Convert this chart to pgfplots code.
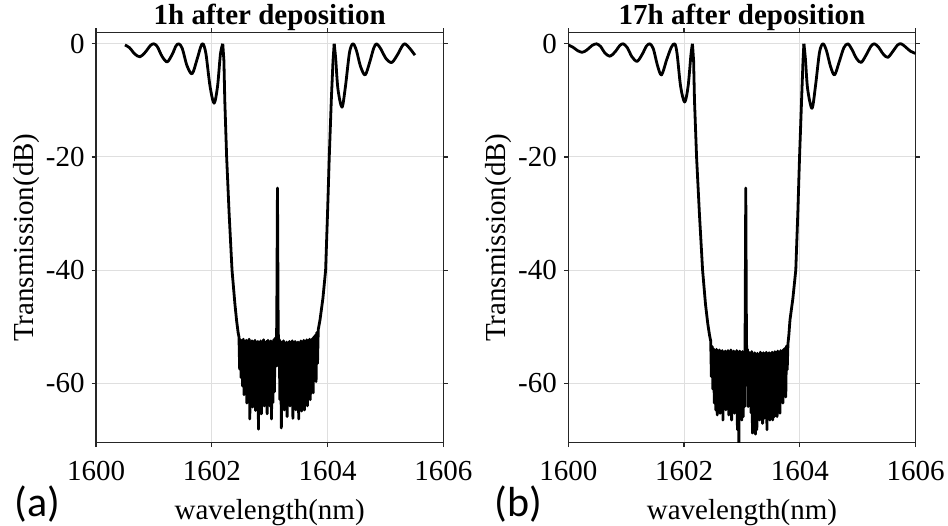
\documentclass[border=0pt]{standalone}
\usepackage{fontspec}
\setmainfont{Liberation Serif}
\newfontfamily\calibri{Carlito}
\usepackage{pgfplots}
\pgfplotsset{compat=1.18}
\pgfplotsset{panel/.style={
  width=173.65pt, height=205.1pt, scale only axis,
  anchor=south west, clip mode=individual,
  xmin=1600, xmax=1606, ymin=-70.5, ymax=2,
  xtick={1600,1602,1604,1606}, xticklabels={1600,1602,1604,1606},
  ytick={-60,-40,-20,0}, yticklabels={-60,-40,-20,0},
  grid=major, major grid style={gray!25, line width=0.5pt},
  axis line style={black!85, line width=0.6pt},
  tick style={black!85, line width=0.6pt},
  tick align=outside, major tick length=2.2pt,
  ticklabel style={font=\fontsize{14.5}{17}\selectfont},
  xticklabel style={yshift=-3.5pt},
  label style={font=\fontsize{14.5}{17}\selectfont},
  every axis title shift=0pt,
  title style={font=\bfseries\fontsize{14.5}{17}\selectfont, at={(axis description cs:0.5,1.0183)}, anchor=base},
  xlabel style={at={(axis description cs:0.5,-0.1804)}, anchor=base, yshift=-1.5pt},
  ylabel style={at={(axis description cs:-0.1805,0.5)}, anchor=base},
  xlabel={wavelength(nm)}, ylabel={Transmission(dB)},
  cycle list={{black, line width=1.4pt, line join=round}},
  every axis plot/.append style={black, line width=1.4pt, line join=round, no markers},
}}
\begin{document}
\begin{tikzpicture}
\useasboundingbox (0,0) rectangle (474pt,262.5pt);
% ---------------- panel (a)
\begin{axis}[panel, at={(48pt,41.15pt)}, title={1h after deposition}]
\addplot[black, smooth, tension=0.5] coordinates {
(1600.50,-0.2) (1600.58,-0.7) (1600.67,-1.8) (1600.76,-2.3) (1600.85,-1.5) (1600.94,-0.3) (1601.00,0.0) (1601.06,-0.5) (1601.14,-2.2) (1601.23,-3.2) (1601.32,-1.8) (1601.38,-0.4) (1601.43,0.0) (1601.49,-0.8) (1601.57,-3.8) (1601.66,-5.3) (1601.75,-2.6) (1601.81,-0.5) (1601.85,0.0) (1601.90,-1.8) (1601.97,-7.5) (1602.04,-10.5) (1602.10,-7.5) (1602.15,-1.8) (1602.19,0.0)};
\addplot[black] coordinates {
(1602.19,0.0) (1602.21,-3) (1602.225,-10) (1602.257,-20) (1602.30,-30) (1602.35,-40) (1602.40,-46) (1602.43,-49) (1602.455,-51)
(1602.470,-51.8) (1602.482,-57.5) (1602.495,-52.3) (1602.507,-59.0) (1602.520,-52.6) (1602.532,-60.5) (1602.545,-52.2) (1602.557,-62.0) (1602.570,-52.9) (1602.582,-61.0) (1602.595,-52.4) (1602.607,-63.5) (1602.620,-52.8) (1602.632,-62.5) (1602.645,-52.2) (1602.657,-66.3) (1602.670,-52.9) (1602.682,-63.0) (1602.695,-52.5) (1602.707,-64.2) (1602.720,-53.0) (1602.732,-62.8) (1602.745,-52.4) (1602.757,-64.8) (1602.770,-52.9) (1602.782,-63.5) (1602.795,-52.6) (1602.807,-68.1) (1602.820,-53.1) (1602.832,-63.2) (1602.845,-52.5) (1602.857,-65.4) (1602.870,-52.8) (1602.882,-62.6) (1602.895,-52.3) (1602.907,-64.0) (1602.920,-52.9) (1602.932,-63.6) (1602.945,-52.6) (1602.957,-65.4) (1602.970,-52.4) (1602.982,-62.8) (1602.995,-52.9) (1603.007,-64.0) (1603.020,-52.5) (1603.032,-66.3) (1603.045,-52.8) (1603.057,-63.4) (1603.070,-52.3) (1603.082,-61.5) (1603.095,-52.0) (1603.110,-57.0)
(1603.123,-49.0) (1603.135,-25.5) (1603.147,-49.0) (1603.158,-57.0)
(1603.165,-52.2) (1603.177,-62.9) (1603.190,-52.6) (1603.202,-67.9) (1603.215,-52.9) (1603.227,-63.5) (1603.240,-52.5) (1603.252,-64.7) (1603.265,-53.0) (1603.277,-62.5) (1603.290,-52.7) (1603.302,-65.9) (1603.315,-53.1) (1603.327,-63.0) (1603.340,-52.6) (1603.352,-64.0) (1603.365,-53.0) (1603.377,-62.4) (1603.390,-52.5) (1603.402,-66.2) (1603.415,-52.9) (1603.427,-63.2) (1603.440,-52.6) (1603.452,-64.7) (1603.465,-53.1) (1603.477,-62.6) (1603.490,-52.7) (1603.502,-66.3) (1603.515,-52.9) (1603.527,-63.0) (1603.540,-52.5) (1603.552,-64.9) (1603.565,-52.8) (1603.577,-62.3) (1603.590,-52.4) (1603.602,-64.7) (1603.615,-52.7) (1603.627,-62.0) (1603.640,-52.3) (1603.652,-64.0) (1603.665,-52.6) (1603.677,-61.5) (1603.690,-52.2) (1603.702,-62.9) (1603.715,-52.5) (1603.727,-60.5) (1603.740,-52.1) (1603.752,-61.7) (1603.765,-51.8) (1603.777,-59.0) (1603.790,-51.5) (1603.802,-59.7) (1603.815,-51.0) (1603.827,-56.5) (1603.840,-50.5)
(1603.87,-48.8) (1603.92,-45) (1603.967,-40) (1604.00,-30) (1604.03,-20) (1604.065,-10) (1604.095,-3) (1604.115,0.0)};
\addplot[black, smooth, tension=0.5] coordinates {
(1604.115,0.0) (1604.14,-2.5) (1604.18,-8) (1604.25,-11.2) (1604.31,-7.5) (1604.38,-1.5) (1604.44,0.0) (1604.50,-1.2) (1604.57,-4.0) (1604.65,-5.5) (1604.73,-3.2) (1604.80,-0.7) (1604.85,0.0) (1604.92,-0.9) (1605.01,-2.6) (1605.11,-3.3) (1605.21,-1.9) (1605.29,-0.4) (1605.34,0.0) (1605.42,-0.8) (1605.51,-2.0)};
\node[anchor=base west, font=\calibri\fontsize{21}{25}\selectfont] at (axis description cs:-0.255,-0.1804) {(a)};
\end{axis}
% ---------------- panel (b)
\begin{axis}[panel, at={(284.15pt,41.15pt)}, title={17h after deposition}]
\addplot[black, smooth, tension=0.5] coordinates {
(1600.00,-0.2) (1600.08,-0.6) (1600.16,-1.2) (1600.24,-1.5) (1600.32,-1.1) (1600.41,-0.3) (1600.49,0.0) (1600.56,-0.5) (1600.63,-1.6) (1600.72,-2.2) (1600.81,-1.4) (1600.89,-0.3) (1600.95,0.0) (1601.02,-0.7) (1601.10,-2.3) (1601.19,-3.1) (1601.28,-1.8) (1601.35,-0.4) (1601.41,0.0) (1601.47,-0.9) (1601.54,-3.8) (1601.61,-5.5) (1601.70,-2.8) (1601.78,-0.6) (1601.84,0.0) (1601.88,-1.8) (1601.94,-7.5) (1602.01,-10.3) (1602.07,-7.5) (1602.12,-1.8) (1602.145,0.0)};
\addplot[black] coordinates {
(1602.145,0.0) (1602.165,-3) (1602.18,-10) (1602.216,-20) (1602.265,-30) (1602.32,-40) (1602.37,-46) (1602.41,-49.5) (1602.44,-51.5)
(1602.460,-52.5) (1602.472,-58.8) (1602.485,-53.5) (1602.497,-61.0) (1602.510,-53.9) (1602.522,-63.5) (1602.535,-54.2) (1602.547,-64.7) (1602.560,-54.0) (1602.572,-65.6) (1602.585,-54.5) (1602.597,-64.0) (1602.610,-54.1) (1602.622,-65.3) (1602.635,-54.6) (1602.647,-64.2) (1602.660,-54.2) (1602.672,-66.5) (1602.685,-54.7) (1602.697,-64.5) (1602.710,-54.3) (1602.722,-64.7) (1602.735,-54.8) (1602.747,-63.8) (1602.760,-54.2) (1602.772,-65.6) (1602.785,-54.6) (1602.797,-64.3) (1602.810,-54.1) (1602.822,-66.5) (1602.835,-54.7) (1602.847,-64.8) (1602.860,-54.3) (1602.872,-65.3) (1602.885,-54.8) (1602.897,-64.5) (1602.910,-54.2) (1602.922,-68.2) (1602.935,-54.6) (1602.947,-70.5) (1602.960,-54.3) (1602.972,-64.9) (1602.985,-54.8) (1602.997,-66.5) (1603.010,-54.4) (1603.022,-65.9) (1603.035,-54.6) (1603.047,-64.1)
(1603.055,-50) (1603.066,-25.5) (1603.077,-50) (1603.087,-60)
(1603.095,-54.0) (1603.107,-64.1) (1603.120,-54.5) (1603.132,-63.6) (1603.145,-54.8) (1603.157,-65.2) (1603.170,-54.4) (1603.182,-68.8) (1603.195,-54.9) (1603.207,-65.5) (1603.220,-54.6) (1603.232,-69.0) (1603.245,-55.0) (1603.257,-68.2) (1603.270,-54.7) (1603.282,-65.0) (1603.295,-54.9) (1603.307,-66.5) (1603.320,-54.5) (1603.332,-65.4) (1603.345,-55.0) (1603.357,-67.1) (1603.370,-54.6) (1603.382,-66.2) (1603.395,-54.9) (1603.407,-64.8) (1603.420,-54.5) (1603.432,-68.2) (1603.445,-55.0) (1603.457,-65.3) (1603.470,-54.6) (1603.482,-66.5) (1603.495,-54.9) (1603.507,-64.6) (1603.520,-54.5) (1603.532,-66.5) (1603.545,-54.8) (1603.557,-65.9) (1603.570,-54.4) (1603.582,-64.2) (1603.595,-54.7) (1603.607,-65.9) (1603.620,-54.3) (1603.632,-64.0) (1603.645,-54.6) (1603.657,-65.3) (1603.670,-54.2) (1603.682,-63.0) (1603.695,-54.4) (1603.707,-63.5) (1603.720,-54.0) (1603.732,-61.5) (1603.745,-53.8) (1603.757,-62.4) (1603.770,-53.4) (1603.782,-57.6) (1603.795,-53.0)
(1603.81,-51.5) (1603.83,-48.8) (1603.88,-45) (1603.93,-40) (1603.965,-30) (1603.995,-20) (1604.03,-10) (1604.055,-3) (1604.07,0.0)};
\addplot[black, smooth, tension=0.5] coordinates {
(1604.07,0.0) (1604.095,-2.5) (1604.135,-8) (1604.21,-11.4) (1604.27,-7.5) (1604.34,-1.5) (1604.40,0.0) (1604.46,-1.2) (1604.53,-4.0) (1604.60,-5.5) (1604.68,-3.2) (1604.76,-0.7) (1604.83,0.0) (1604.90,-1.0) (1604.98,-2.6) (1605.06,-3.3) (1605.15,-1.9) (1605.23,-0.4) (1605.29,0.0) (1605.36,-0.6) (1605.44,-1.8) (1605.52,-2.4) (1605.61,-1.3) (1605.69,-0.2) (1605.75,0.0) (1605.82,-0.5) (1605.91,-1.3) (1606.00,-1.7)};
\node[anchor=base west, font=\calibri\fontsize{21}{25}\selectfont] at (axis description cs:-0.233,-0.1804) {(b)};
\end{axis}
\end{tikzpicture}
\end{document}
